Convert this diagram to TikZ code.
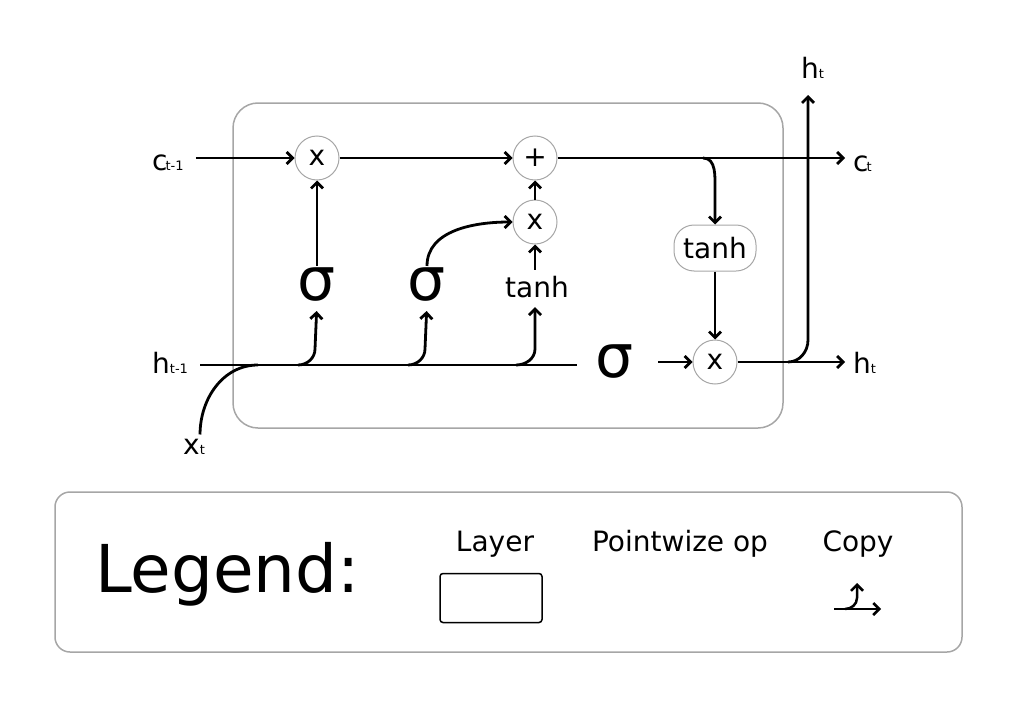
\documentclass[tikz,border=0pt]{standalone}
\usepackage{fontspec}
\setmainfont{DejaVu Sans}
\usetikzlibrary{positioning, arrows.meta}
\newcommand{\indice}[1]{{\fontsize{13}{13}\selectfont #1}}

\begin{document}
\begin{tikzpicture}[x=1pt, y=1pt,
  op/.style={circle, draw=gray!70, line width=1pt, minimum size=44pt, inner sep=0pt, font=\fontsize{28}{30}\selectfont},
  sigma/.style={inner sep=0pt, font=\fontsize{60}{60}\selectfont},
  etiq/.style={inner sep=0pt, font=\fontsize{28}{30}\selectfont},
  flecha/.style={-{Straight Barb[length=6pt, width=12pt]}, line width=2.8pt},
  linea/.style={line width=2.8pt}
]
  \useasboundingbox (0,0) rectangle (1024,-701);
  % celda
  \draw[gray!70, line width=1.5pt, rounded corners=25] (233,-103) rectangle (783,-428);
  % operaciones
  \node[op] (mulf) at (317,-158) {x};
  \node[op] (add) at (535,-158) {+};
  \node[op] (muli) at (535,-222) {x};
  \node[op] (mulo) at (715,-362) {x};
  \node[sigma] (sigf) at (317,-285) {σ};
  \node[sigma] (sigi) at (427,-285) {σ};
  \node[sigma] (sigo) at (615,-362) {σ};
  \node[etiq] (tanhi) at (537,-287) {tanh};
  \node[etiq, draw=gray!70, line width=1pt, rounded corners=20, minimum width=82pt, minimum height=46pt] (tanhc) at (715,-248) {tanh};
  % etiquetas
  \node[etiq, anchor=base west] (cprev) at (152,-170) {c\kern-2pt\indice{t-1}};
  \node[etiq, anchor=base west] (ct) at (853,-171) {c\kern-2pt\indice{t}};
  \node[etiq, anchor=base west] (hprev) at (152,-373) {h\indice{t-1}};
  \node[etiq, anchor=base west] (ht) at (853,-373) {h\indice{t}};
  \node[etiq, anchor=base west] (htup) at (801,-78) {h\indice{t}};
  \node[etiq, anchor=base west] (xt) at (183,-454) {x\indice{t}};
  \coordinate (bc) at (703,-158);
  \coordinate (bo) at (788,-362);
  \coordinate (hsal) at (808,-95);
  \coordinate (hfin) at (577,-365);
  \coordinate (xj) at (258,-365);
  \coordinate (rf) at (298,-365);
  \coordinate (ri) at (408,-365);
  \coordinate (rt) at (516,-365);
  % conexiones
  \draw[flecha, shorten <=12pt] (cprev.east |- mulf) -- (mulf.west);
  \draw[flecha] (mulf.east) -- (add.west);
  \draw[flecha, shorten >=8pt] (add.east) -- (ct.west |- add);
  \draw[flecha] (bc) to[out=0, in=90] ++(12,-32) -- (tanhc.north);
  \draw[flecha] (tanhc.south) -- (mulo.north);
  \draw[flecha, shorten <=24pt] (sigo.east |- mulo) -- (mulo.west);
  \draw[flecha, shorten >=8pt] (mulo.east) -- (ht.west |- mulo);
  \draw[flecha] (bo) to[out=0, in=-90] ++(20,22) -- (hsal);
  \draw[linea, shorten <=12pt] (hprev.east |- hfin) -- (hfin);
  \draw[linea] (xt.north) ++(6,4) to[out=90, in=180] (xj);
  \draw[flecha, shorten >=9pt] (rf) to[out=0, in=-90] ++(17,16) -- (sigf.south);
  \draw[flecha, shorten >=9pt] (ri) to[out=0, in=-90] ++(17,16) -- (sigi.south);
  \draw[flecha, shorten >=9pt] (rt) to[out=0, in=-90] ++(19,16) -- (tanhi.south -| muli);
  \draw[flecha, shorten <=2pt] (sigf.north) -- (mulf.south);
  \draw[flecha, shorten <=2pt] (sigi.north) to[out=90, in=180] (muli.west);
  \draw[flecha, shorten <=6pt] (tanhi.north -| muli) -- (muli.south);
  \draw[flecha] (muli.north) -- (add.south);
  % leyenda
  \draw[gray!70, line width=1.5pt, rounded corners=15] (55,-492) rectangle (962,-652);
  \node[inner sep=0pt, anchor=base west, font=\fontsize{66}{70}\selectfont] (leyenda) at (95,-592) {Legend:};
  \node[etiq, anchor=base] (lcapa) at (495,-551) {Layer};
  \node[etiq, anchor=base] (lop) at (680,-551) {Pointwize op};
  \node[etiq, anchor=base] (lcopia) at (858,-551) {Copy};
  \node[draw, line width=1.5pt, rounded corners=3, minimum width=102pt, minimum height=49pt] (capa) at (491,-598) {};
  \coordinate (ca) at (834,-609);
  \coordinate (cb) at (881,-609);
  \coordinate (cc) at (845,-609);
  \coordinate (cd) at (857,-583);
  \draw[flecha, line width=2.5pt] (ca) -- (cb);
  \draw[flecha, line width=2.5pt] (cc) to[out=0, in=-90] ++(12,11) -- (cd);
\end{tikzpicture}
\end{document}
